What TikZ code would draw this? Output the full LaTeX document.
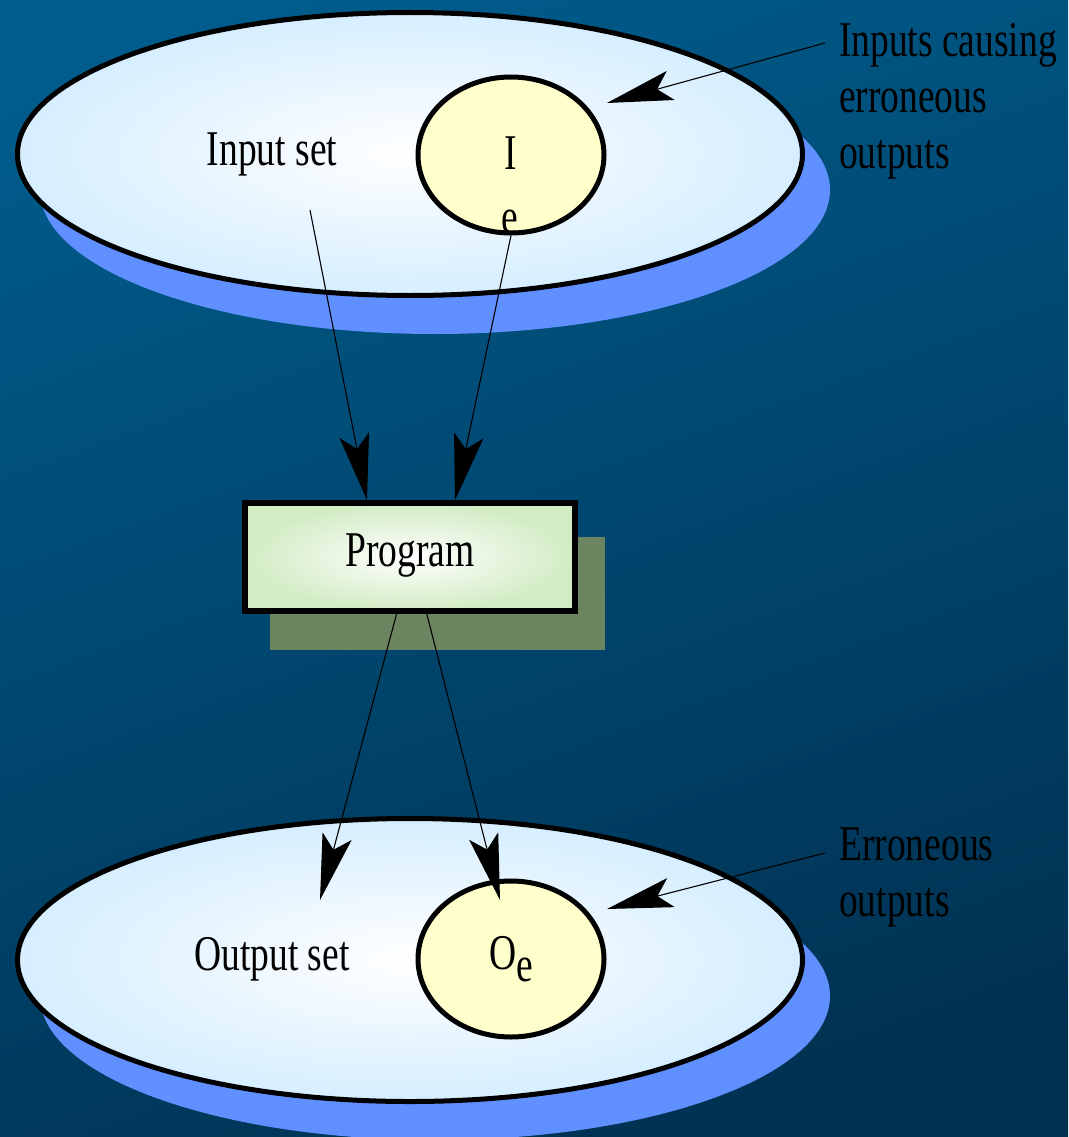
\documentclass[tikz,border=0pt]{standalone}
\usepackage{fontspec}
\setmainfont{Liberation Serif}[FakeStretch=0.75]
\usetikzlibrary{shapes.geometric,arrows.meta,calc}
\definecolor{bgtop}{RGB}{0,92,140}
\definecolor{bgbot}{RGB}{0,48,80}
\definecolor{shadowblue}{RGB}{96,144,255}
\definecolor{setouter}{RGB}{214,238,255}
\definecolor{errfill}{RGB}{255,255,204}
\definecolor{progouter}{RGB}{210,236,196}
\definecolor{progshadow}{RGB}{107,133,96}
\tikzset{
  lbl/.style={font=\fontsize{50}{56}\selectfont, text=black, inner sep=0pt},
  setell/.style={ellipse, draw=black, line width=5pt, minimum width=785pt, minimum height=283pt, inner sep=0pt, inner color=white, outer color=setouter},
  setshadow/.style={ellipse, fill=shadowblue, minimum width=790pt, minimum height=288pt, inner sep=0pt},
  errell/.style={ellipse, draw=black, line width=5pt, fill=errfill, minimum width=186pt, minimum height=156pt, inner sep=0pt},
  progbox/.style={rectangle, draw=black, line width=6pt, minimum width=330pt, minimum height=108pt, inner sep=0pt, inner color=white, outer color=progouter},
  progshade/.style={rectangle, fill=progshadow, minimum width=335pt, minimum height=113pt, inner sep=0pt},
  conn/.style={draw=black, line width=1.1pt, -{Stealth[length=66pt,width=30pt,inset=14pt]}},
}
\begin{document}
\begin{tikzpicture}[x=1pt,y=-1pt]
\useasboundingbox (0,0) rectangle (1068,1137);
\clip (0,0) rectangle (1068,1137);
\shade[top color=bgtop, bottom color=bgbot, shading angle=20] (-60,-60) rectangle (1128,1197);
% top set
\node[setshadow] (inshadow) at (435,190) {};
\node[setell] (inset) at (410,154) {};
\node[errell] (Ie) at (511,155) {};
\node[lbl] (Ilbl) at (511,153) {I};
\node[lbl] (elbl) at (510,222) {e};
\node[lbl] (inlbl) at (272,154) {Input set};
% program
\node[progshade] (progsh) at (437.5,593.5) {};
\node[progbox] (prog) at (410,557) {};
\node[lbl] (proglbl) at (410,556) {Program};
% bottom set
\node[setshadow] (outshadow) at (435,996) {};
\node[setell] (outset) at (410,960) {};
\node[errell] (Oe) at (511,959) {};
\node[lbl, anchor=base] (Oelbl) at (511,969) {O\raisebox{-12pt}{e}};
\node[lbl] (outlbl) at (272,959) {Output set};
% annotations
\node[lbl, anchor=west, align=left] (note1) at (839,101) {Inputs causing\\erroneous\\outputs};
\node[lbl, anchor=west, align=left] (note2) at (839,877) {Erroneous\\outputs};
% connectors
\coordinate (a1s) at (310,210);
\coordinate (o1e) at (320,900);
\coordinate (o2e) at (500,900);
\coordinate (n1s) at (825,43);
\coordinate (n1e) at (607,103);
\coordinate (n2s) at (825,853);
\coordinate (n2e) at (607,909);
\draw[conn] (a1s) -- ($(prog.north west)!0.372!(prog.north east)$);
\draw[conn] (Ie.south) -- ($(prog.north west)!0.634!(prog.north east)$);
\draw[conn] ($(prog.south west)!0.46!(prog.south east)$) -- (o1e);
\draw[conn] ($(prog.south west)!0.55!(prog.south east)$) -- (o2e);
\draw[conn] (n1s) -- (n1e);
\draw[conn] (n2s) -- (n2e);
\end{tikzpicture}
\end{document}
